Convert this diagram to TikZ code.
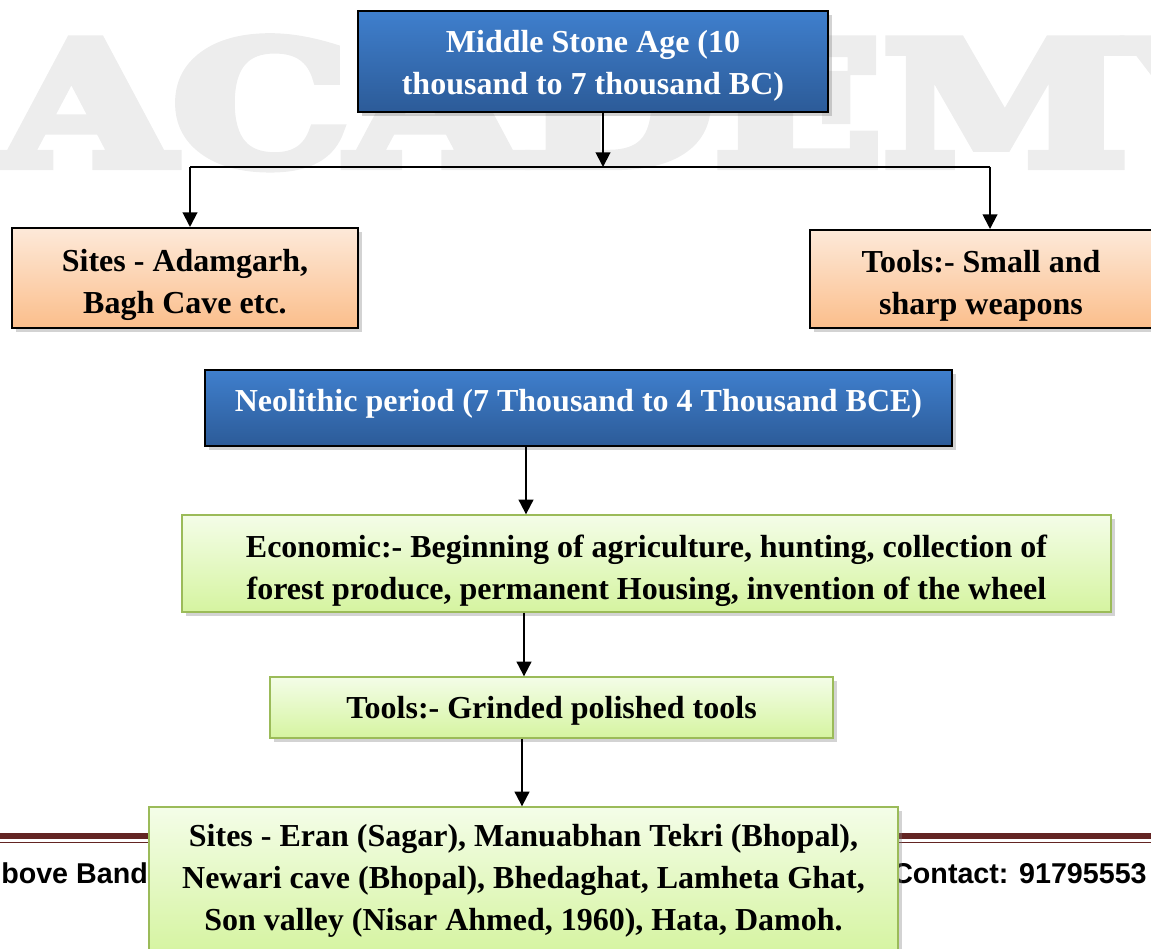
\documentclass[tikz,border=0pt]{standalone}
\usepackage{fontspec}
\setmainfont{Liberation Serif}
\newfontfamily\bandfont{Liberation Sans}
\newfontfamily\markfont[FakeBold=6]{DejaVu Serif}
\usetikzlibrary{shapes,arrows,arrows.meta,positioning,fit,shadows}
\definecolor{agetop}{HTML}{3F7FCD}
\definecolor{agebot}{HTML}{2C5B98}
\definecolor{branchtop}{HTML}{FDE9D9}
\definecolor{branchbot}{HTML}{FBBE8B}
\definecolor{detailtop}{HTML}{F4FDE8}
\definecolor{detailbot}{HTML}{D5F4A0}
\definecolor{detailrim}{HTML}{9BBB59}
\definecolor{bandred}{HTML}{632523}
\definecolor{markgray}{HTML}{EDEDED}
\tikzstyle{boxfont} = [font=\bfseries\fontsize{24}{31.5}\selectfont,align=center,inner sep=0]
\tikzstyle{period} = [boxfont,draw=black,line width=1.5pt,rectangle,top color=agetop,bottom color=agebot,text=white,drop shadow={shadow xshift=3pt,shadow yshift=-3pt,opacity=.35}]
\tikzstyle{branch} = [boxfont,draw=black,line width=1.5pt,rectangle,top color=branchtop,bottom color=branchbot,drop shadow={shadow xshift=3pt,shadow yshift=-3pt,opacity=.35}]
\tikzstyle{detail} = [boxfont,draw=detailrim,line width=1pt,rectangle,top color=detailtop,bottom color=detailbot,drop shadow={shadow xshift=3pt,shadow yshift=-3pt,opacity=.35}]
\tikzstyle{link} = [-{Triangle[width=11pt,length=11pt]},line width=1.5pt]
\tikzstyle{bandtext} = [font=\bandfont\bfseries\fontsize{21.5}{26}\selectfont,inner sep=0]
\def \px {0.75pt}
\def \up #1{\rule{0pt}{#1}}
\def \dn #1{\rule[-#1]{0pt}{#1}}

\begin{document}
\begin{tikzpicture}[x=\px,y=-\px]
      \useasboundingbox (0,0) rectangle (1151,948);
      \clip (0,0) rectangle (1151,948);
      \node[anchor=base west,inner sep=0,text=markgray] (mark) at (0,165)
        {\scalebox{1.3}[1]{\markfont\bfseries\fontsize{128}{128}\selectfont ACADEMY}};
      \draw[bandred,line width=4.5pt] (0,836) -- (1151,836);
      \draw[bandred,line width=1.2pt] (0,842.5) -- (1151,842.5);
      \node[bandtext,anchor=base west] (band) at (1,883) {bove Band};
      \node[bandtext,anchor=base west] (contact) at (892,883) {Contact: 91795553};
      \node[period,minimum width=470*\px,minimum height=101*\px] (mid) at (593,61.5) {\up{23.5pt}Middle Stone Age (10\\thousand to 7 thousand BC)};
      \node[branch,minimum width=346*\px,minimum height=100*\px] (sitesA) at (185,278) {\up{27pt}Sites - Adamgarh,\\Bagh Cave etc.};
      \node[branch,minimum width=342*\px,minimum height=98*\px] (toolsA) at (981,279) {\up{27pt}Tools:- Small and\\sharp weapons};
      \node[period,minimum width=747*\px,minimum height=76*\px] (neo) at (578.5,408) {Neolithic period (7 Thousand to 4 Thousand BCE)\dn{11pt}};
      \node[detail,minimum width=929*\px,minimum height=97*\px] (econ) at (646.5,563.5) {\up{28pt}Economic:- Beginning of agriculture, hunting, collection of\\forest produce, permanent Housing, invention of the wheel};
      \node[detail,minimum width=563*\px,minimum height=61*\px] (toolsB) at (551.5,707.5) {\up{21pt}Tools:- Grinded polished tools};
      \node[detail,minimum width=749*\px,minimum height=148*\px] (sitesB) at (523.5,881) {Sites - Eran (Sagar), Manuabhan Tekri (Bhopal),\\Newari cave (Bhopal), Bhedaghat, Lamheta Ghat,\\Son valley (Nisar Ahmed, 1960), Hata, Damoh.};
      \coordinate (hub) at (603,167);
      \coordinate (hubL) at (190,167);
      \coordinate (hubR) at (990,167);
      \coordinate (neoX) at (526,0);
      \coordinate (econX) at (524,0);
      \coordinate (toolsX) at (522,0);
      \draw[line width=1.5pt] (hubL) -- (hubR);
      \draw[link] (mid.south -| hub) -- (hub);
      \draw[link] (hubL) -- (sitesA.north -| hubL);
      \draw[link] (hubR) -- (toolsA.north -| hubR);
      \draw[link] (neo.south -| neoX) -- (econ.north -| neoX);
      \draw[link] (econ.south -| econX) -- (toolsB.north -| econX);
      \draw[link] (toolsB.south -| toolsX) -- (sitesB.north -| toolsX);
    \end{tikzpicture}
\end{document}
